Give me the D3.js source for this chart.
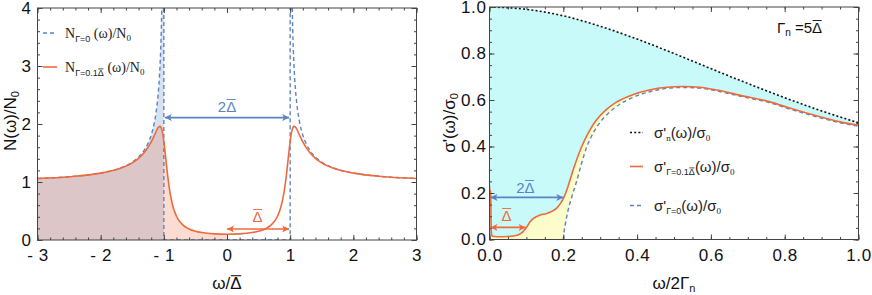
<!DOCTYPE html>
<html><head><meta charset="utf-8">
<script src="https://cdn.jsdelivr.net/npm/d3@7"></script>
<style>body{margin:0;background:#fff} svg{display:block}</style>
</head><body><svg id="c" width="872" height="295"></svg>
<script>
// ================= DATA =================
// Left panel: density of states N(ω)/N0 vs ω/Δ̄
const nOmega = [-3,-2.5,-2,-1.75,-1.5,-1.4,-1.3,-1.2,-1.15,-1.1,-1.08,-1.06,-1.045,-1.03,-1.015,-1,
  -0.975,-0.95,-0.9,-0.85,-0.8,-0.7,-0.6,-0.5,-0.4,-0.2,0,
  0.2,0.4,0.5,0.6,0.7,0.8,0.85,0.9,0.95,0.975,
  1,1.015,1.03,1.045,1.06,1.08,1.1,1.15,1.2,1.3,1.4,1.5,1.75,2,2.5,3];
const nBroad = [1.061,1.091,1.153,1.214,1.329,1.407,1.520,1.691,1.804,1.919,1.951,1.959,1.941,1.894,1.815,1.702,
  1.464,1.209,0.802,0.555,0.410,0.260,0.190,0.151,0.128,0.106,0.100,
  0.106,0.128,0.151,0.190,0.260,0.410,0.555,0.802,1.209,1.464,
  1.702,1.815,1.894,1.941,1.959,1.951,1.919,1.804,1.691,1.520,1.407,1.329,1.214,1.153,1.091,1.061];
const bcsOmegaLeft = [-3,-2.5,-2,-1.75,-1.5,-1.4,-1.3,-1.25,-1.2,-1.15,-1.125,-1.1,-1.085,-1.07,-1.06,-1.05,-1.04,-1.0328];
const bcsLeft      = [1.061,1.091,1.155,1.219,1.342,1.429,1.565,1.667,1.809,2.025,2.183,2.400,2.577,2.811,3.015,3.280,3.641,4.0];
const bcsOmegaRight = [1.0328,1.04,1.05,1.06,1.07,1.085,1.1,1.125,1.15,1.2,1.25,1.3,1.4,1.5,1.75,2,2.5,3];
const bcsRight      = [4.0,3.641,3.280,3.015,2.811,2.577,2.400,2.183,2.025,1.809,1.667,1.565,1.429,1.342,1.219,1.155,1.091,1.061];
const bcsGapOmega = [-1,-1,1,1];
const bcsGapN     = [4,0,0,4];
const leftXTicks = [-3,-2,-1,0,1,2,3];
const leftYTicks = [0,1,2,3,4];

// Right panel: optical conductivity σ'(ω)/σ0 vs ω/2Γn
const sigNx = [0,0.1,0.2,0.3,0.4,0.5,0.6,0.7,0.8,0.9,1.0];
const sigN  = [1.0,0.990,0.962,0.917,0.862,0.800,0.735,0.671,0.610,0.553,0.502];
const sigBx = [0,0.003,0.005,0.008,0.02,0.05,0.075,0.085,0.093,0.1,0.11,0.12,0.135,0.155,0.17,0.182,0.19,0.2,0.21,0.218,0.23,0.25,0.265,0.282,0.30,0.318,0.345,0.39,0.43,0.48,0.525,0.57,0.616,0.68,0.76,0.82,0.886,0.95,1.0];
const sigB  = [0.215,0.205,0.03,0.014,0.012,0.013,0.018,0.026,0.038,0.052,0.076,0.092,0.104,0.112,0.122,0.135,0.150,0.176,0.215,0.255,0.315,0.400,0.450,0.497,0.533,0.561,0.592,0.624,0.642,0.655,0.658,0.655,0.643,0.620,0.592,0.562,0.532,0.506,0.491];
const sig0x = [0.2,0.203,0.206,0.211,0.223,0.237,0.25,0.264,0.28,0.30,0.32,0.345,0.39,0.43,0.48,0.525,0.57,0.616,0.68,0.76,0.82,0.886,0.95,1.0];
const sig0  = [0,0.045,0.070,0.112,0.183,0.255,0.33,0.400,0.455,0.505,0.540,0.573,0.612,0.634,0.650,0.654,0.651,0.639,0.616,0.588,0.558,0.528,0.502,0.487];
const sig0DeltaX = [0,0];
const sig0DeltaY = [0,0.23];
const rightXTicks = [0,0.2,0.4,0.6,0.8,1.0];
const rightYTicks = [0,0.2,0.4,0.6,0.8,1.0];

// ================= STYLE =================
const ORANGE = "#ee6a3c", BLUE = "#5b83c3";
const SANS = "'Liberation Sans', Arial, sans-serif";
const SERIF = "'Liberation Serif', 'Times New Roman', serif";
const svg = d3.select("#c");

const defs = svg.append("defs");
function marker(id, color){
  defs.append("marker").attr("id", id).attr("viewBox","0 0 10 10")
    .attr("refX", 10).attr("refY", 5).attr("markerWidth", 10).attr("markerHeight", 7)
    .attr("markerUnits","userSpaceOnUse").attr("orient","auto-start-reverse")
    .append("path").attr("d","M0,0 L10,5 L0,10 L2.5,5 Z").attr("fill", color);
}
marker("aBlue", BLUE); marker("aOrange", ORANGE);

function zip(xs, ys){ return xs.map((x,i)=>[x, ys[i]]); }
function sty(sel, o){ for (const k in o) sel.attr(k,o[k]); return sel; }

function frame(g, x, y, xMajor, xMinor, yMajor, yMinor, xfmt, yfmt, xpad, ypad){
  const [x0,x1] = x.range(), [y0,y1] = y.range();
  const mk = (ax, vals, size, fmt, pad) => ax.tickValues(vals).tickSizeInner(-size).tickSizeOuter(0).tickPadding(pad||7).tickFormat(fmt || "");
  const add = (axis, tr) => { const a = g.append("g").attr("transform", tr).call(axis);
    a.select(".domain").remove();
    a.selectAll("line").attr("stroke","#444");
    a.selectAll("text").attr("font-family", SANS).attr("font-size", 17).attr("letter-spacing", 0.6).attr("fill","#111");
    return a; };
  add(mk(d3.axisBottom(x), xMinor, 2.5), `translate(0,${y0})`);
  add(mk(d3.axisBottom(x), xMajor, 5, xfmt, xpad), `translate(0,${y0})`);
  add(mk(d3.axisTop(x), xMinor, 2.5), `translate(0,${y1})`);
  add(mk(d3.axisTop(x), xMajor, 5), `translate(0,${y1})`);
  add(mk(d3.axisLeft(y), yMinor, 2.5), `translate(${x0},0)`);
  add(mk(d3.axisLeft(y), yMajor, 5, yfmt, ypad), `translate(${x0},0)`);
  add(mk(d3.axisRight(y), yMinor, 2.5), `translate(${x1},0)`);
  add(mk(d3.axisRight(y), yMajor, 5), `translate(${x1},0)`);
  g.append("rect").attr("x", x0).attr("y", y1).attr("width", x1-x0).attr("height", y0-y1)
    .attr("fill","none").attr("stroke","#444").attr("stroke-width",1);
}

// overline every Δ in a text element
function overline(textSel, color, fs){
  const node = textSel.node();
  const s = node.textContent;
  const parent = d3.select(node.parentNode);
  for (let i=0;i<s.length;i++){
    if (s[i] === "Δ"){
      const e = node.getExtentOfChar(i);
      const yy = e.y + fs*0.1;
      parent.append("line").attr("x1", e.x+0.5).attr("x2", e.x+e.width-0.5)
        .attr("y1", yy).attr("y2", yy).attr("stroke", color).attr("stroke-width", Math.max(0.8, fs/16))
        .attr("transform", textSel.attr("transform"));
    }
  }
}

// rich text: parts = [[text, size, dy, family]]
function rich(g, x, y, parts, color, anchor){
  const t = g.append("text").attr("x", x).attr("y", y).attr("fill", color || "#111")
    .attr("text-anchor", anchor || "start");
  parts.forEach(p => t.append("tspan").text(p[0]).attr("font-size", p[1]).attr("dy", p[2] || 0)
    .attr("font-family", p[3] || SANS));
  return t;
}

// ================= LEFT PANEL =================
const L = svg.append("g");
const lx = d3.scaleLinear([-3,3],[37.5,416.5]);
const ly = d3.scaleLinear([0,4],[240,8]);
defs.append("clipPath").attr("id","clipL").append("rect").attr("x",37.5).attr("y",8).attr("width",379).attr("height",232);
defs.append("clipPath").attr("id","clipNeg1").append("rect").attr("x",lx(-3)).attr("y",0).attr("width",lx(-1)-lx(-3)).attr("height",300);
defs.append("clipPath").attr("id","clipNeg0").append("rect").attr("x",lx(-1)).attr("y",0).attr("width",lx(0)-lx(-1)).attr("height",300);
const LP = L.append("g").attr("clip-path","url(#clipL)");
const areaL = d3.area().x(d=>lx(d[0])).y0(ly(0)).y1(d=>ly(d[1])).curve(d3.curveMonotoneX);
const lineL = d3.line().x(d=>lx(d[0])).y(d=>ly(d[1])).curve(d3.curveMonotoneX);
const bcsL = zip(bcsOmegaLeft, bcsLeft);
LP.append("path").attr("d", areaL(bcsL.concat([[-1,4]]))).attr("fill","#d8e1ef");
const broad = zip(nOmega, nBroad);
LP.append("g").attr("clip-path","url(#clipNeg1)").append("path").attr("d", areaL(broad)).attr("fill","#dcc6c8");
LP.append("g").attr("clip-path","url(#clipNeg0)").append("path").attr("d", areaL(broad)).attr("fill","#fcdcd0");
const dashB = {"stroke":BLUE,"fill":"none","stroke-width":1.4,"stroke-dasharray":"4,3"};
sty(LP.append("path").attr("d", lineL(bcsL)), dashB);
sty(LP.append("path").attr("d", lineL(zip(bcsOmegaRight, bcsRight))), dashB);
sty(LP.append("path").attr("d", d3.line().x(d=>lx(d[0])).y(d=>ly(d[1]))(zip(bcsGapOmega, bcsGapN))), dashB);
LP.append("path").attr("d", lineL(broad)).attr("fill","none").attr("stroke",ORANGE).attr("stroke-width",1.6);

frame(L, lx, ly, leftXTicks, d3.range(-3,3.01,0.2).map(v=>+v.toFixed(2)), leftYTicks, d3.range(0,4.01,0.2).map(v=>+v.toFixed(2)),
  d => d<0 ? "- "+Math.abs(d) : String(d), d => String(d), 9, 6);

// arrows left
L.append("line").attr("x1",lx(-1)+1).attr("x2",lx(1)-1).attr("y1",ly(2.11)).attr("y2",ly(2.11))
  .attr("stroke",BLUE).attr("stroke-width",1.6).attr("marker-start","url(#aBlue)").attr("marker-end","url(#aBlue)");
let t = rich(L, lx(0), 112, [["2Δ",15]], BLUE, "middle"); overline(t, BLUE, 15);
L.append("line").attr("x1",lx(0)).attr("x2",lx(1)-1).attr("y1",ly(0.19)).attr("y2",ly(0.19))
  .attr("stroke",ORANGE).attr("stroke-width",1.6).attr("marker-start","url(#aOrange)").attr("marker-end","url(#aOrange)");
t = rich(L, lx(0.5)-1, 222, [["Δ",15]], ORANGE, "middle"); overline(t, ORANGE, 15);

// legend left
sty(L.append("line").attr("x1",43).attr("x2",57).attr("y1",33).attr("y2",33), dashB);
rich(L, 65, 38, [["N",14,0,SERIF],["Γ=0",9,4],[" (ω)/N",14,-4,SERIF],["0",9,3,SERIF]], "#222");
L.append("line").attr("x1",43).attr("x2",57).attr("y1",67).attr("y2",67).attr("stroke",ORANGE).attr("stroke-width",1.6);
t = rich(L, 65, 72, [["N",14,0,SERIF],["Γ=0.1Δ",9,4],[" (ω)/N",14,-4,SERIF],["0",9,3,SERIF]], "#222");
overline(t, "#222", 9);

// axis titles left
rich(L, lx(0), 289, [["ω/Δ",17]], "#111", "middle").call(s=>overline(s,"#111",17));
const yl = L.append("text").attr("transform","translate(16,121) rotate(-90)").attr("text-anchor","middle").attr("fill","#111");
[["N(ω)/N",17,0],["0",11,3]].forEach(p=>yl.append("tspan").text(p[0]).attr("font-size",p[1]).attr("dy",p[2]).attr("font-family",SANS));

// ================= RIGHT PANEL =================
const R = svg.append("g");
const rx = d3.scaleLinear([0,1],[489.5,858.5]);
const ry = d3.scaleLinear([0,1],[239.5,7]);
defs.append("clipPath").attr("id","clipR").append("rect").attr("x",489.5).attr("y",7).attr("width",369).attr("height",232.5);
const RP = R.append("g").attr("clip-path","url(#clipR)");
const areaR = d3.area().x(d=>rx(d[0])).y0(ry(0)).y1(d=>ry(d[1])).curve(d3.curveMonotoneX);
const lineR = d3.line().x(d=>rx(d[0])).y(d=>ry(d[1])).curve(d3.curveMonotoneX);
const sN = zip(sigNx, sigN), sB = zip(sigBx, sigB), s0 = zip(sig0x, sig0);
RP.append("path").attr("d", areaR(sN)).attr("fill","#c9fafa");
RP.append("path").attr("d", areaR(sB)).attr("fill","#fdfdcc");
RP.append("path").attr("d", areaR(s0)).attr("fill","#ffffff");
sty(RP.append("path").attr("d", lineR(s0)), dashB);
RP.append("path").attr("d", d3.line().x(d=>rx(d[0])).y(d=>ry(d[1]))(zip(sig0DeltaX, sig0DeltaY)))
  .attr("stroke","#9db5de").attr("stroke-width",2.4).attr("fill","none");
RP.append("path").attr("d", lineR(sB)).attr("fill","none").attr("stroke",ORANGE).attr("stroke-width",1.6);
RP.append("path").attr("d", lineR(sN)).attr("fill","none").attr("stroke","#111").attr("stroke-width",1.6).attr("stroke-dasharray","2,2.2");

frame(R, rx, ry, rightXTicks, d3.range(0,1.001,0.05).map(v=>+v.toFixed(2)), rightYTicks, d3.range(0,1.001,0.05).map(v=>+v.toFixed(2)),
  d3.format(".1f"), d3.format(".1f"), 9, 3);

// arrows right
R.append("line").attr("x1",rx(0)+1).attr("x2",rx(0.2)).attr("y1",ry(0.181)).attr("y2",ry(0.181))
  .attr("stroke",BLUE).attr("stroke-width",1.6).attr("marker-start","url(#aBlue)").attr("marker-end","url(#aBlue)");
t = rich(R, rx(0.1)-1, 193, [["2Δ",15]], BLUE, "middle"); overline(t, BLUE, 15);
R.append("line").attr("x1",rx(0)+1).attr("x2",rx(0.098)).attr("y1",ry(0.052)).attr("y2",ry(0.052))
  .attr("stroke",ORANGE).attr("stroke-width",1.6).attr("marker-start","url(#aOrange)").attr("marker-end","url(#aOrange)");
t = rich(R, rx(0.049)-1, 221, [["Δ",15]], ORANGE, "middle"); overline(t, ORANGE, 15);

// annotation Γn = 5Δ̄
t = rich(R, 777, 33, [["Γ",15],["n",10,3],[" =5Δ",15,-3]], "#111"); overline(t, "#111", 15);

// legend right
R.append("line").attr("x1",630).attr("x2",643).attr("y1",132.5).attr("y2",132.5).attr("stroke","#111").attr("stroke-width",1.6).attr("stroke-dasharray","2,2.2");
rich(R, 654, 138, [["σ'",15],["n",9,3,SERIF],["(ω)/σ",15,-3],["0",9,3,SERIF]], "#222");
R.append("line").attr("x1",630).attr("x2",643).attr("y1",166.5).attr("y2",166.5).attr("stroke",ORANGE).attr("stroke-width",1.6);
t = rich(R, 654, 172, [["σ'",15],["Γ=0.1Δ",9,3],["(ω)/σ",15,-3],["0",9,3,SERIF]], "#222"); overline(t, "#222", 9);
sty(R.append("line").attr("x1",630).attr("x2",643).attr("y1",205.5).attr("y2",205.5), dashB);
rich(R, 654, 211, [["σ'",15],["Γ=0",9,3],["(ω)/σ",15,-3],["0",9,3,SERIF]], "#222");

// axis titles right
rich(R, rx(0.5), 289, [["ω/2Γ",17],["n",11,3]], "#111", "middle");
const yr = R.append("text").attr("transform","translate(455,123) rotate(-90)").attr("text-anchor","middle").attr("fill","#111");
[["σ'(ω)/σ",17,0],["0",11,3]].forEach(p=>yr.append("tspan").text(p[0]).attr("font-size",p[1]).attr("dy",p[2]).attr("font-family",SANS));
</script>
</body></html>
